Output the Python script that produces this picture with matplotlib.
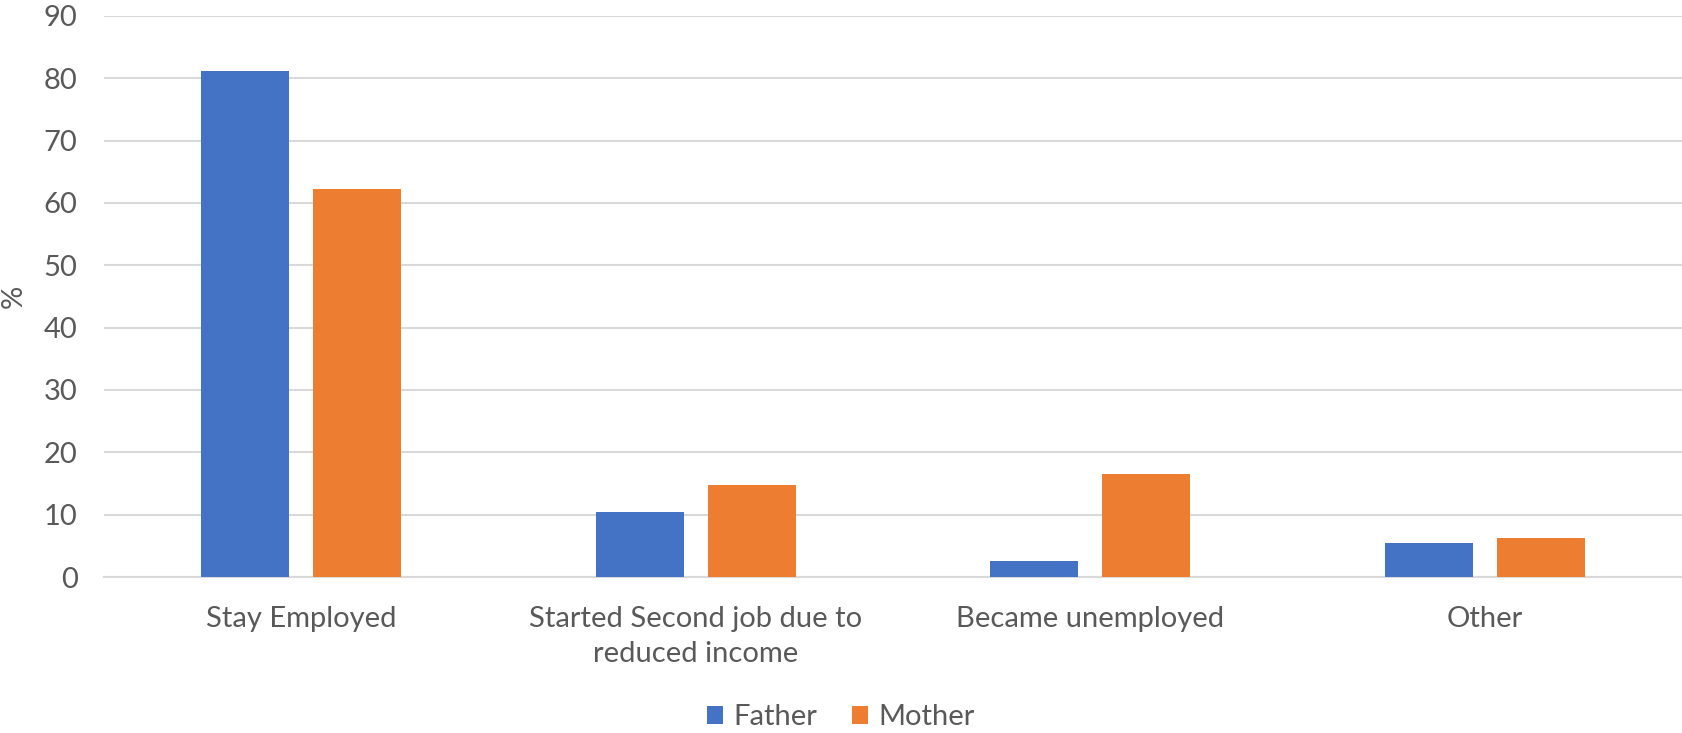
import numpy as np
import matplotlib.pyplot as plt

# survey results, percent of respondents
categories = ["Stay Employed", "Started Second job due to\nreduced income",
              "Became unemployed", "Other"]
father = [81.1, 10.4, 2.6, 5.5]
mother = [62.2, 14.7, 16.6, 6.2]
yticks = [0, 10, 20, 30, 40, 50, 60, 70, 80, 90]

blue = "#4472C4"
orange = "#ED7D31"
text_col = "#595959"
grid_col = "#D9D9D9"

plt.rcParams["font.family"] = ["Lato", "DejaVu Sans"]
fs = 21

fig = plt.figure(figsize=(16.82, 7.33), dpi=100)
ax = fig.add_axes([104 / 1682, 156 / 733, 1 - 104 / 1682, (577 - 16) / 733])

x = np.arange(len(categories))
w = 0.223
off = w / 2 + 0.031
ax.bar(x - off, father, w, color=blue, label="Father", zorder=3)
ax.bar(x + off, mother, w, color=orange, label="Mother", zorder=3)

ax.set_xlim(-0.5, len(categories) - 0.5)
ax.set_ylim(0, 90)
ax.set_yticks(yticks)
ax.yaxis.grid(True, color=grid_col, linewidth=1.5, zorder=0)
ax.set_axisbelow(True)

for s in ["top", "right", "left"]:
    ax.spines[s].set_visible(False)
ax.spines["bottom"].set_color(grid_col)
ax.spines["bottom"].set_linewidth(1.5)

ax.set_xticks(x)
ax.set_xticklabels(categories, fontsize=fs, color=text_col, linespacing=1.42)
ax.tick_params(axis="x", length=0, pad=21)
ax.tick_params(axis="y", length=0, pad=19, labelsize=fs, labelcolor=text_col)

ax.set_ylabel("%", fontsize=fs, color=text_col, labelpad=12)

ax.legend(loc="lower center", bbox_to_anchor=(0.5 - 52 / 1578, -0.32),
          ncol=2, frameon=False, fontsize=fs, labelcolor=text_col,
          handlelength=0.55, handleheight=0.6, handletextpad=0.35,
          columnspacing=1.2)

fig.savefig("out.png", dpi=100)
